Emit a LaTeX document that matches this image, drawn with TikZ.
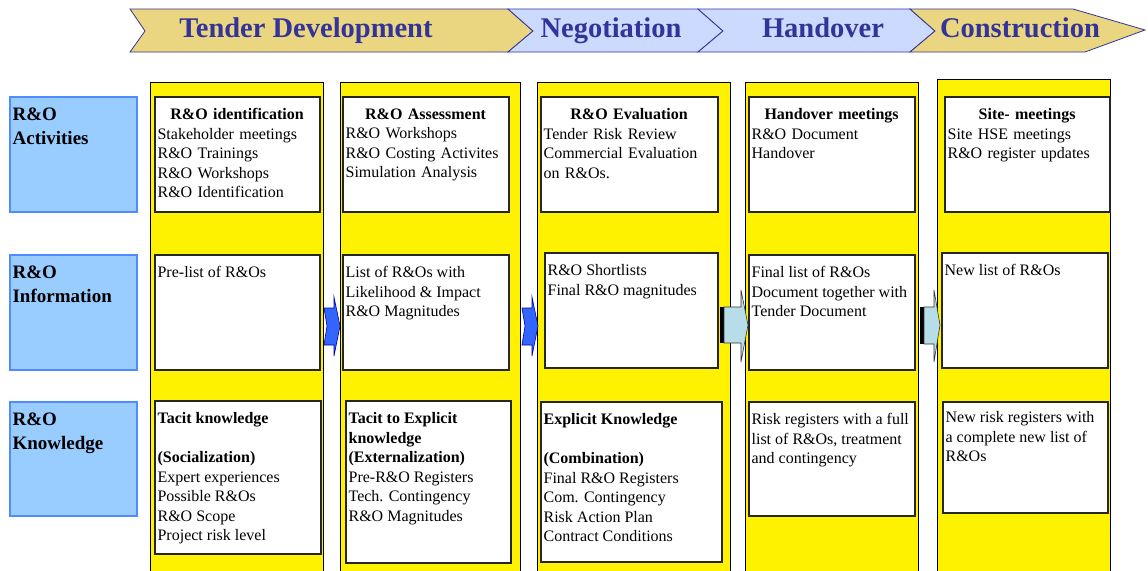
\documentclass[tikz,border=0pt]{standalone}
\usepackage{fontspec}
\setmainfont{Liberation Serif}
\usetikzlibrary{fit}

\definecolor{phasetan}{RGB}{234,214,128}
\definecolor{phaseblue}{RGB}{204,218,255}
\definecolor{phaseline}{RGB}{51,51,153}
\definecolor{sidefill}{RGB}{153,204,255}
\definecolor{sideline}{RGB}{80,140,255}
\definecolor{arrowblue}{RGB}{51,102,255}
\definecolor{arrowcyan}{RGB}{183,222,232}

\tikzset{
  phase/.style={draw=phaseline,line width=0.8pt},
  stage/.style={anchor=base,text=phaseline,font=\fontsize{28.5}{30}\selectfont\bfseries},
  column/.style={fill=yellow,draw=black,line width=1pt},
  side/.style={fill=sidefill,draw=sideline,line width=1.2pt,inner sep=0pt},
  cell/.style={fill=white,draw=black!85,line width=1.2pt,inner sep=0pt},
  txt/.style={anchor=north west,inner xsep=3pt,inner ysep=0pt,align=left,
    font=\fontsize{16}{19.5}\selectfont},
  sidetxt/.style={txt,font=\fontsize{19}{24}\selectfont\bfseries},
  bluearrow/.style={fill=arrowblue,draw=blue!70!black,line width=0.6pt},
  cyanarrow/.style={fill=arrowcyan,draw=black!80,line width=0.6pt},
}
\newcommand\celltitle[1]{\makebox[\linewidth]{\textbf{#1}}}

\begin{document}
\begin{tikzpicture}[x=1pt,y=-1pt]
\useasboundingbox (0,0) rectangle (1148,570);

% phases along the top
\filldraw[phase,fill=phasetan] (130,9) -- (508,9) -- (533,31) -- (508,52) -- (130,52) -- (145,31) -- cycle;
\filldraw[phase,fill=phaseblue] (508,9) -- (698,9) -- (723,31) -- (698,52) -- (508,52) -- (533,31) -- cycle;
\filldraw[phase,fill=phaseblue] (698,9) -- (910,9) -- (935,31) -- (910,52) -- (698,52) -- (723,31) -- cycle;
\filldraw[phase,fill=phasetan] (910,9) -- (1073,9) -- (1145,30) -- (1085,52) -- (910,52) -- (935,31) -- cycle;
\node[stage] (tender) at (306,37.5) {Tender Development};
\node[stage] (nego) at (611,37.5) {Negotiation};
\node[stage] (hand) at (823,37.5) {Handover};
\node[stage] (constr) at (1020,37.5) {Construction};

% yellow columns
\draw[column] (150,82) rectangle (323,575);
\draw[column] (340,82) rectangle (520,575);
\draw[column] (537,82) rectangle (730,575);
\draw[column] (745,82) rectangle (918,575);
\draw[column] (937,79) rectangle (1110,575);

% row labels
\node[side,fit={(10,97) (137,212)}] (act) {};
\node[sidetxt] (actt) at ([yshift=-11pt]act.north west) {R\&O\\Activities};
\node[side,fit={(10,255) (137,370)}] (info) {};
\node[sidetxt] (infot) at ([yshift=-11pt]info.north west) {R\&O\\Information};
\node[side,fit={(10,402) (137,516)}] (know) {};
\node[sidetxt] (knowt) at ([yshift=-11pt]know.north west) {R\&O\\Knowledge};

% activities
\node[cell,fit={(155,97) (320,212)}] (a1) {};
\node[txt,text width=159pt] (a1t) at ([yshift=-12pt]a1.north west)
  {\celltitle{R\&O identification}\\Stakeholder meetings\\R\&O Trainings\\R\&O Workshops\\R\&O Identification};
\node[cell,fit={(343,97) (509,212)}] (a2) {};
\node[txt,text width=160pt] (a2t) at ([yshift=-12pt]a2.north west)
  {\celltitle{R\&O Assessment}\\R\&O Workshops\\R\&O Costing Activites\\Simulation Analysis};
\node[cell,fit={(541,97) (718,212)}] (a3) {};
\node[txt,text width=171pt] (a3t) at ([yshift=-12pt]a3.north west)
  {\celltitle{R\&O Evaluation}\\Tender Risk Review\\Commercial Evaluation\\on R\&Os.};
\node[cell,fit={(749,97) (915,212)}] (a4) {};
\node[txt,text width=160pt] (a4t) at ([yshift=-12pt]a4.north west)
  {\celltitle{Handover meetings}\\R\&O Document\\Handover};
\node[cell,fit={(945,97) (1110,212)}] (a5) {};
\node[txt,text width=159pt] (a5t) at ([yshift=-12pt]a5.north west)
  {\celltitle{Site- meetings}\\Site HSE meetings\\R\&O register updates};

% information
\node[cell,fit={(155,255) (320,370)}] (b1) {};
\node[txt] (b1t) at ([yshift=-12pt]b1.north west) {Pre-list of R\&Os};
\node[cell,fit={(343,255) (509,370)}] (b2) {};
\node[txt] (b2t) at ([yshift=-12pt]b2.north west) {List of R\&Os with\\Likelihood \& Impact\\R\&O Magnitudes};
\node[cell,fit={(545,253) (718,368)}] (b3) {};
\node[txt] (b3t) at ([yshift=-12pt]b3.north west) {R\&O Shortlists\\Final R\&O magnitudes};
\node[cell,fit={(749,255) (915,370)}] (b4) {};
\node[txt] (b4t) at ([yshift=-12pt]b4.north west) {Final list of R\&Os\\Document together with\\Tender Document};
\node[cell,fit={(942,253) (1108,368)}] (b5) {};
\node[txt] (b5t) at ([yshift=-12pt]b5.north west) {New list of R\&Os};

% knowledge
\node[cell,fit={(155,401) (321,554)}] (c1) {};
\node[txt] (c1t) at ([yshift=-12pt]c1.north west)
  {\textbf{Tacit knowledge}\\[19.5pt]\textbf{(Socialization)}\\Expert experiences\\Possible R\&Os\\R\&O Scope\\Project risk level};
\node[cell,fit={(346,401) (511,563)}] (c2) {};
\node[txt] (c2t) at ([yshift=-12pt]c2.north west)
  {\textbf{Tacit to Explicit}\\\textbf{knowledge}\\\textbf{(Externalization)}\\Pre-R\&O Registers\\Tech. Contingency\\R\&O Magnitudes};
\node[cell,fit={(541,402) (722,562)}] (c3) {};
\node[txt] (c3t) at ([yshift=-12pt]c3.north west)
  {\textbf{Explicit Knowledge}\\[19.5pt]\textbf{(Combination)}\\Final R\&O Registers\\Com. Contingency\\Risk Action Plan\\Contract Conditions};
\node[cell,fit={(749,402) (915,516)}] (c4) {};
\node[txt] (c4t) at ([yshift=-12pt]c4.north west) {Risk registers with a full\\list of R\&Os, treatment\\and contingency};
\node[cell,fit={(943,402) (1108,513)}] (c5) {};
\node[txt] (c5t) at ([yshift=-10pt]c5.north west) {New risk registers with\\a complete new list of\\R\&Os};

% block arrows between the information cells
\filldraw[bluearrow] (324,308) -- (334,308) -- (334,297) -- (340,326) -- (334,356) -- (334,345) -- (324,345) -- (327,326) -- cycle;
\filldraw[bluearrow] (522,308) -- (532,308) -- (532,297) -- (538,326) -- (532,356) -- (532,345) -- (522,345) -- (525,326) -- cycle;
\fill[black] (720,307) rectangle (724,343);
\filldraw[cyanarrow] (724,307) -- (741,307) -- (741,290) -- (748,325) -- (741,362) -- (741,343) -- (724,343) -- cycle;
\fill[black] (920,307) rectangle (924,344);
\filldraw[cyanarrow] (924,307) -- (934,307) -- (934,290) -- (940,325) -- (934,362) -- (934,344) -- (924,344) -- cycle;

\end{tikzpicture}
\end{document}
